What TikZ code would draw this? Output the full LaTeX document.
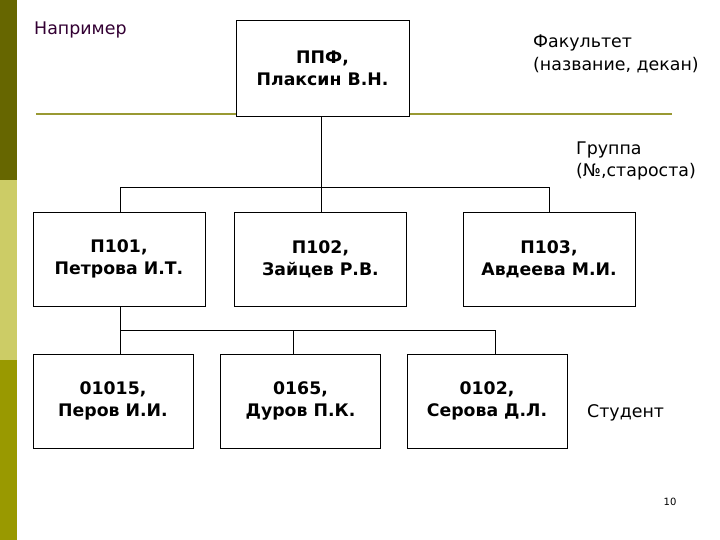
\documentclass[tikz,border=0pt]{standalone}
\usepackage{fontspec}
\setmainfont{DejaVu Sans}
\definecolor{bardark}{RGB}{102,102,0}
\definecolor{barlight}{RGB}{204,204,102}
\definecolor{barmid}{RGB}{153,153,0}
\definecolor{oliveline}{RGB}{153,153,51}
\definecolor{titlecol}{RGB}{51,0,51}
\begin{document}
\begin{tikzpicture}[x=1pt,y=-1pt,
  box/.style={draw=black, line width=0.8pt, fill=white, align=center, inner sep=0pt,
    font=\fontsize{17.3}{22}\selectfont\bfseries},
  gbox/.style={box, minimum width=172pt, minimum height=94pt},
  sbox/.style={box, minimum width=160pt, minimum height=94pt},
  lbl/.style={align=left, anchor=west, inner sep=0pt, font=\fontsize{17.4}{22.5}\selectfont},
  conn/.style={draw=black, line width=0.8pt}]
\useasboundingbox (0,0) rectangle (720,540);
\fill[white] (0,0) rectangle (720,540);
% left bar
\fill[bardark] (0,0) rectangle (17,180);
\fill[barlight] (0,180) rectangle (17,360);
\fill[barmid] (0,360) rectangle (17,540);
% title
\node[lbl, text=titlecol] (title) at (34,30) {Например};
% olive line
\coordinate (ol1) at (36,114);
\coordinate (ol2) at (672,114);
\draw[oliveline, line width=2pt] (ol1) -- (ol2);
% top box
\node[box, minimum width=173pt, minimum height=96pt] (ppf) at (322.5,68) {ППФ,\\Плаксин В.Н.};
% labels
\node[lbl] (fac) at (533,54) {Факультет\\(название, декан)};
\node[lbl] (grp) at (576,161) {Группа\\(№,староста)};
\node[lbl] (stud) at (587,413) {Студент};
\node[inner sep=0pt, font=\fontsize{10}{11}\selectfont] (pg) at (670,502) {10};
% group boxes
\node[gbox] (g1) at (119,259) {П101,\\Петрова И.Т.};
\node[gbox] (g2) at (320.5,259) {П102,\\Зайцев Р.В.};
\node[gbox] (g3) at (549,259) {П103,\\Авдеева М.И.};
% student boxes
\node[sbox] (s1) at (113,401) {01015,\\Перов И.И.};
\node[sbox] (s2) at (300.5,401) {0165,\\Дуров П.К.};
\node[sbox] (s3) at (487,401) {0102,\\Серова Д.Л.};
% bus 1
\coordinate (b1) at (120,187);
\coordinate (b2) at (321,187);
\coordinate (b3) at (549,187);
\draw[conn] (b2 |- ppf.south) -- (b2);
\draw[conn] (b1 |- g1.north) -- (b1) -- (b3) -- (b3 |- g3.north);
\draw[conn] (b2) -- (b2 |- g2.north);
% bus 2
\coordinate (c1) at (120,330);
\coordinate (c2) at (293,330);
\coordinate (c3) at (495,330);
\draw[conn] (c1 |- g1.south) -- (c1) -- (c3) -- (c3 |- s3.north);
\draw[conn] (c1) -- (c1 |- s1.north);
\draw[conn] (c2) -- (c2 |- s2.north);
\end{tikzpicture}
\end{document}
